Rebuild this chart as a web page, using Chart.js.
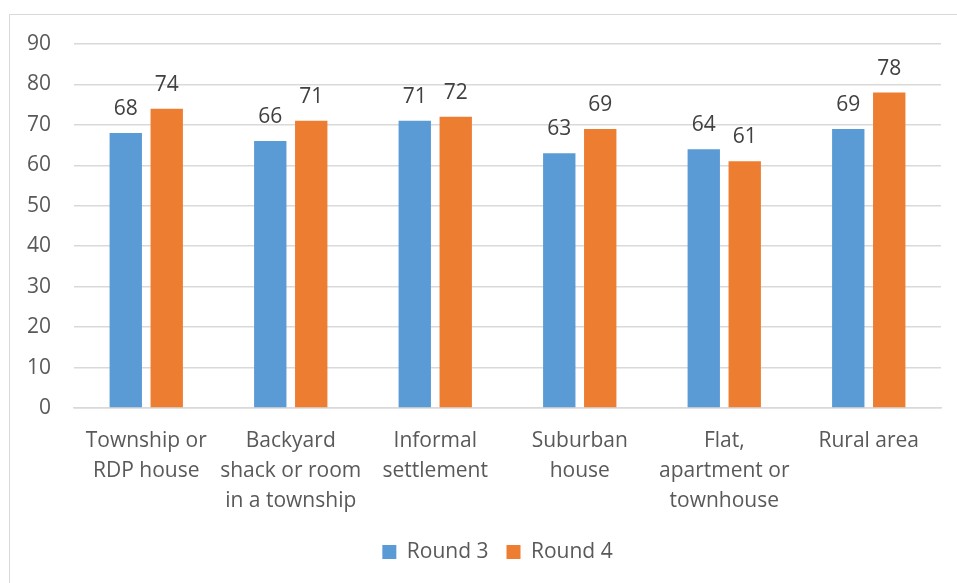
<!DOCTYPE html>
<html>
<head>
<meta charset="utf-8">
<script src="https://cdn.jsdelivr.net/npm/chart.js@4.4.0/dist/chart.umd.min.js"></script>
<style>
  html, body { margin: 0; padding: 0; background: #fff; overflow: hidden; }
  #wrap { position: relative; width: 957px; height: 583px; }
  #frame { position: absolute; left: 9px; top: 14px; width: 980px; height: 600px;
           border: 1px solid #d9d9d9; box-sizing: border-box; }
  canvas { position: absolute; left: 0; top: 0; }
</style>
</head>
<body>
<div id="wrap">
  <div id="frame"></div>
  <canvas id="c" width="957" height="583"></canvas>
</div>
<script>
// Dwelling types and scores per survey round
const categories = [
  ["Township or", "RDP house"],
  ["Backyard", "shack or room", "in a township"],
  ["Informal", "settlement"],
  ["Suburban", "house"],
  ["Flat,", "apartment or", "townhouse"],
  ["Rural area"]
];
const round3 = [68, 66, 71, 63, 64, 69];
const round4 = [74, 71, 72, 69, 61, 78];
const seriesNames = ["Round 3", "Round 4"];
const yTicks = [0, 10, 20, 30, 40, 50, 60, 70, 80, 90];

const FONT = "'Open Sans', 'DejaVu Sans', sans-serif";
const FS = 21;

// Value labels above each bar
const valueLabels = {
  id: 'valueLabels',
  afterDatasetsDraw(chart) {
    const ctx = chart.ctx;
    ctx.save();
    ctx.font = FS + 'px ' + FONT;
    ctx.fillStyle = '#404040';
    ctx.textAlign = 'center';
    ctx.textBaseline = 'alphabetic';
    chart.data.datasets.forEach((ds, di) => {
      chart.getDatasetMeta(di).data.forEach((bar, i) => {
        ctx.fillText(String(ds.data[i]), bar.x, bar.y - 18);
      });
    });
    ctx.restore();
  }
};

// Nudge the legend row to sit under the middle of the plot
const legendShift = {
  id: 'legendShift',
  afterLayout(chart) {
    const lg = chart.legend;
    if (lg) { lg.left += 22; lg.right += 22; }
  }
};

new Chart(document.getElementById('c'), {
  type: 'bar',
  data: {
    labels: categories,
    datasets: [
      { label: seriesNames[0], data: round3, backgroundColor: '#5B9BD5' },
      { label: seriesNames[1], data: round4, backgroundColor: '#ED7D31' }
    ]
  },
  options: {
    responsive: false,
    animation: false,
    devicePixelRatio: 1,
    datasets: { bar: { categoryPercentage: 0.567, barPercentage: 0.79 } },
    layout: { padding: { left: 10, right: 16, top: 44, bottom: 10.5 } },
    plugins: {
      tooltip: { enabled: false },
      legend: {
        position: 'bottom',
        labels: {
          boxWidth: 14, boxHeight: 14, padding: 18,
          color: '#595959',
          font: { family: FONT, size: FS }
        }
      }
    },
    scales: {
      x: {
        grid: { display: false, drawTicks: false },
        border: { color: '#d9d9d9', width: 1.5 },
        ticks: {
          color: '#595959', padding: 18, maxRotation: 0, autoSkip: false,
          font: { family: FONT, size: FS, lineHeight: '30px' }
        },
        afterFit(s) { s.height = 115.5; }
      },
      y: {
        min: 0, max: 90,
        afterBuildTicks(s) { s.ticks = yTicks.map(v => ({ value: v })); },
        grid: { color: '#d9d9d9', lineWidth: 1.5, drawTicks: false },
        border: { display: false },
        ticks: {
          color: '#595959', padding: 23,
          font: { family: FONT, size: FS }
        },
        afterFit(s) { s.width = 64; }
      }
    }
  },
  plugins: [valueLabels, legendShift]
});
</script>
</body>
</html>
